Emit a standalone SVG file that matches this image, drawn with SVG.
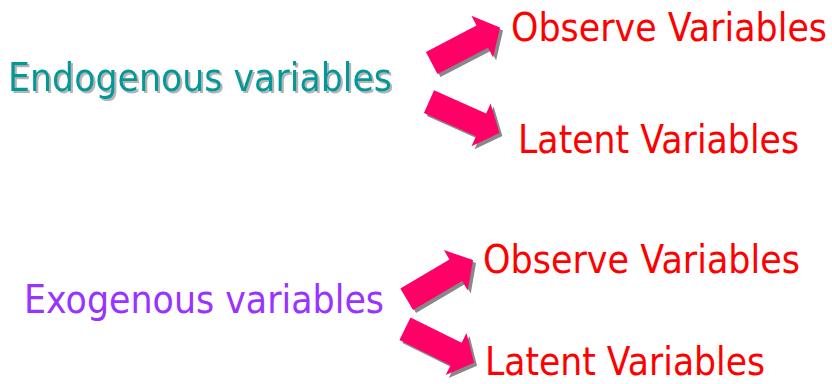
<svg xmlns="http://www.w3.org/2000/svg" xmlns:xlink="http://www.w3.org/1999/xlink" width="832" height="384" viewBox="0 0 832 384">
<style>
.t{font-family:"DejaVu Sans","Verdana",sans-serif;font-size:34px}
.red{fill:#FF0000}
.endo{fill:#009999}
.exo{fill:#9933FF}
.arr{fill:#FF0066}
.arrsh{fill:#888888}
</style>
<defs>
<path id="blk" d="M0,-12.5 L57,-12.5 L57,-23.5 L77,0 L57,23.5 L57,12.5 L0,12.5 Z"/>
<filter id="tsh" x="-5%" y="-20%" width="110%" height="140%">
<feFlood flood-color="#B4B4B4" result="c"/>
<feComposite in="c" in2="SourceAlpha" operator="in" result="s"/>
<feOffset in="s" dx="2" dy="2" result="o"/>
<feMerge><feMergeNode in="o"/><feMergeNode in="SourceGraphic"/></feMerge>
</filter>
</defs>
<rect width="832" height="384" fill="#FFFFFF"/>
<g id="connectors">
<g transform="translate(431.7,63) rotate(-27.5)"><use xlink:href="#blk" class="arrsh" transform="rotate(27.5) translate(3,3) rotate(-27.5)"/><use xlink:href="#blk" class="arr"/></g>
<g transform="translate(429,101.7) rotate(24)"><use xlink:href="#blk" class="arrsh" transform="rotate(-24) translate(3,3) rotate(24)"/><use xlink:href="#blk" class="arr"/></g>
<g transform="translate(406.7,299.2) rotate(-30.5)"><use xlink:href="#blk" class="arrsh" transform="rotate(30.5) translate(3,3) rotate(-30.5)"/><use xlink:href="#blk" class="arr"/></g>
<g transform="translate(405,328.7) rotate(26.3)"><use xlink:href="#blk" class="arrsh" transform="rotate(-26.3) translate(3,3) rotate(26.3)"/><use xlink:href="#blk" class="arr"/></g>
</g>
<g id="endogenous" transform="translate(8,91) scale(1,1.17)">
<text class="t endo" x="0" y="0" filter="url(#tsh)" textLength="384" lengthAdjust="spacingAndGlyphs">Endogenous variables</text>
</g>
<g id="endo-observe" transform="translate(511,41) scale(1,1.17)"><text class="t red" x="0" y="0" textLength="316" lengthAdjust="spacingAndGlyphs">Observe Variables</text></g>
<g id="endo-latent" transform="translate(518,153) scale(1,1.17)"><text class="t red" x="0" y="0" textLength="281" lengthAdjust="spacingAndGlyphs">Latent Variables</text></g>
<g id="exogenous" transform="translate(24,313) scale(1,1.17)"><text class="t exo" x="0" y="0" textLength="360" lengthAdjust="spacingAndGlyphs">Exogenous variables</text></g>
<g id="exo-observe" transform="translate(483,273) scale(1,1.17)"><text class="t red" x="0" y="0" textLength="317" lengthAdjust="spacingAndGlyphs">Observe Variables</text></g>
<g id="exo-latent" transform="translate(485,374.5) scale(1,1.17)"><text class="t red" x="0" y="0" textLength="280" lengthAdjust="spacingAndGlyphs">Latent Variables</text></g>
</svg>
